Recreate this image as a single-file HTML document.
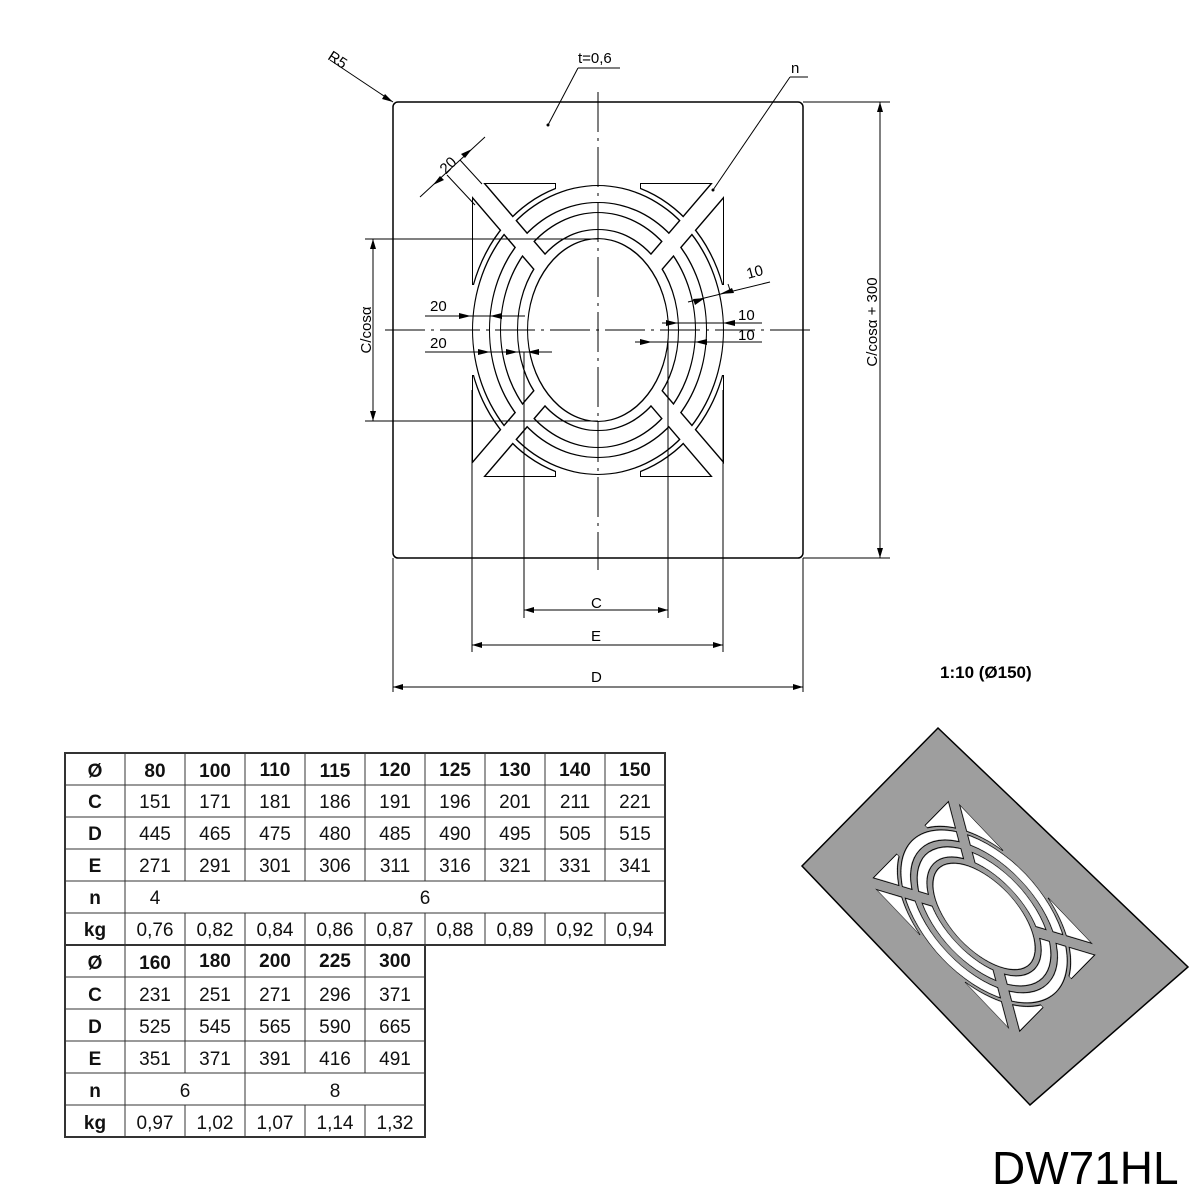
<!DOCTYPE html>
<html><head><meta charset="utf-8"><style>
html,body{margin:0;padding:0;background:#fff;}
svg{display:block;}
text{font-family:"Liberation Sans",sans-serif;}
</style></head><body>
<svg width="1200" height="1200" viewBox="0 0 1200 1200" xmlns="http://www.w3.org/2000/svg">
<defs>
<mask id="bm" maskUnits="userSpaceOnUse" x="0" y="0" width="1200" height="1200">
<rect x="0" y="0" width="1200" height="1200" fill="#fff"/>
<line x1="346" y1="36" x2="850" y2="624" stroke="#000" stroke-width="17"/>
<line x1="850" y1="36" x2="346" y2="624" stroke="#000" stroke-width="17"/>
</mask>
<filter id="er" filterUnits="userSpaceOnUse" x="0" y="0" width="1200" height="1200"><feMorphology operator="erode" radius="1.1"/></filter>
<g id="cut">
<g mask="url(#bm)">
<path fill-rule="evenodd" d="M472,330 a126,145 0 1,0 252,0 a126,145 0 1,0 -252,0 Z M490,330 a108,127 0 1,0 216,0 a108,127 0 1,0 -216,0 Z"/>
<path fill-rule="evenodd" d="M500,330 a98,118 0 1,0 196,0 a98,118 0 1,0 -196,0 Z M518,330 a80,100 0 1,0 160,0 a80,100 0 1,0 -160,0 Z"/>
<path d="M472,183 L556,183 L556,189 A130 149 0 0 0 474,285 L472,285 Z"/>
<path d="M472,183 L556,183 L556,189 A130 149 0 0 0 474,285 L472,285 Z" transform="matrix(-1 0 0 1 1196 0)"/>
<path d="M472,183 L556,183 L556,189 A130 149 0 0 0 474,285 L472,285 Z" transform="matrix(1 0 0 -1 0 660)"/>
<path d="M472,183 L556,183 L556,189 A130 149 0 0 0 474,285 L472,285 Z" transform="matrix(-1 0 0 -1 1196 660)"/>
</g>
<ellipse cx="598" cy="330" rx="71" ry="92"/>
</g>
</defs>

<rect x="393" y="102" width="410" height="456" rx="5" fill="#fff" stroke="#000" stroke-width="1.5"/>
<use href="#cut" fill="#000"/>
<use href="#cut" fill="#fff" filter="url(#er)"/>

<g stroke="#000" stroke-width="1" fill="none">
<line x1="598" y1="92" x2="598" y2="570" stroke-dasharray="40,6,3,6"/>
<line x1="385" y1="330" x2="812" y2="330" stroke-dasharray="40,6,3,6"/>
<line x1="365" y1="239" x2="598" y2="239"/>
<line x1="365" y1="421" x2="598" y2="421"/>
<line x1="803" y1="102" x2="890" y2="102"/>
<line x1="803" y1="558" x2="890" y2="558"/>
<line x1="524" y1="352" x2="524" y2="618"/>
<line x1="668" y1="342" x2="668" y2="618"/>
<line x1="472" y1="390" x2="472" y2="652"/>
<line x1="723" y1="390" x2="723" y2="652"/>
<line x1="393" y1="558" x2="393" y2="692"/>
<line x1="803" y1="558" x2="803" y2="692"/>
<line x1="373" y1="239" x2="373" y2="421"/>
<line x1="880" y1="102" x2="880" y2="558"/>
<line x1="524" y1="610" x2="668" y2="610"/>
<line x1="472" y1="645" x2="723" y2="645"/>
<line x1="393" y1="687" x2="803" y2="687"/>
<line x1="330" y1="60" x2="393" y2="102"/>
<line x1="578" y1="68" x2="620" y2="68"/>
<line x1="578" y1="68" x2="548" y2="125"/>
<line x1="790" y1="77" x2="808" y2="77"/>
<line x1="790" y1="77" x2="713" y2="190"/>
<line x1="420" y1="197" x2="485" y2="137"/>
<line x1="447" y1="175" x2="475" y2="205"/>
<line x1="460" y1="160" x2="482" y2="184"/>
<line x1="425" y1="316" x2="525" y2="316"/>
<line x1="425" y1="352" x2="552" y2="352"/>
<line x1="662" y1="323" x2="762" y2="323"/>
<line x1="635" y1="342" x2="762" y2="342"/>
<line x1="688" y1="302" x2="770" y2="282"/>
<line x1="728" y1="284" x2="731" y2="293"/>
</g>
<g fill="#000">
<path d="M373,239 l-3,10 h6 Z M373,421 l-3,-10 h6 Z"/>
<path d="M880,102 l-3,10 h6 Z M880,558 l-3,-10 h6 Z"/>
<path d="M524,610 l10,-3 v6 Z M668,610 l-10,-3 v6 Z"/>
<path d="M472,645 l10,-3 v6 Z M723,645 l-10,-3 v6 Z"/>
<path d="M393,687 l10,-3 v6 Z M803,687 l-10,-3 v6 Z"/>
<path d="M393,102 l-11,-3 l3,-5 Z"/>
<path d="M471,316 l-12,-3 v6 Z M490,316 l12,-3 v6 Z"/>
<path d="M490,352 l-12,-3 v6 Z M518,352 l-12,-3 v6 Z M527,352 l12,-3 v6 Z"/>
<path d="M678,323 l-12,-3 v6 Z M723,323 l12,-3 v6 Z"/>
<path d="M652,342 l-12,-3 v6 Z M695,342 l12,-3 v6 Z"/>
<path d="M705,298 l-12,1 l2,6 Z M720,294 l12,-6 l2,5 Z"/>
<path d="M433,185 l7,-9 l4,4 Z M472,149 l-7,9 l-4,-4 Z"/>
<circle cx="548" cy="125" r="1.5"/><circle cx="713" cy="190" r="1.5"/>
</g>
<g font-size="15" fill="#000">
<text x="578" y="63">t=0,6</text>
<text x="791" y="73">n</text>
<text x="328" y="65" transform="rotate(33 338 60)">R5</text>
<text x="438" y="168" transform="rotate(-45 450 162)">20</text>
<text x="430" y="311">20</text>
<text x="430" y="348">20</text>
<text x="738" y="320">10</text>
<text x="738" y="340">10</text>
<text x="746" y="276" transform="rotate(-15 758 270)">10</text>
<text x="591" y="608">C</text>
<text x="591" y="641">E</text>
<text x="591" y="682">D</text>
<text transform="translate(371 330) rotate(-90)" text-anchor="middle">C/cosα</text>
<text transform="translate(877 322) rotate(-90)" text-anchor="middle">C/cosα + 300</text>
</g>
<text x="940" y="678" font-size="17" font-weight="bold">1:10 (Ø150)</text>
<text x="992" y="1184" font-size="46">DW71HL</text>

<polygon points="938,728 1188,967 1030,1105 802,866" fill="#9e9e9e" stroke="#000" stroke-width="1.5"/>
<g transform="matrix(0.332 -0.337 0.5 0.524 620.5 945)">
<use href="#cut" fill="#000"/>
<use href="#cut" fill="#fff" filter="url(#er)"/>
</g>

<g stroke="#333" stroke-width="1" fill="none">
<rect x="65" y="753" width="600" height="192" stroke-width="2"/>
<rect x="65" y="945" width="360" height="192" stroke-width="2"/>
<path d="M65,785H665 M65,817H665 M65,849H665 M65,881H665 M65,913H665
M125,753V945 M185,753V881 M185,913V945 M245,753V881 M245,913V945 M305,753V881 M305,913V945 M365,753V881 M365,913V945 M425,753V881 M425,913V945 M485,753V881 M485,913V945 M545,753V881 M545,913V945 M605,753V881 M605,913V945
M65,977H425 M65,1009H425 M65,1041H425 M65,1073H425 M65,1105H425
M125,945V1137 M185,945V1073 M185,1105V1137 M245,945V1137 M305,945V1073 M305,1105V1137 M365,945V1073 M365,1105V1137"/>
</g>
<g font-size="19" text-anchor="middle" fill="#111">
<g font-weight="bold"><text x="95" y="777">Ø</text><text x="95" y="808">C</text><text x="95" y="840">D</text><text x="95" y="872">E</text><text x="95" y="904">n</text><text x="95" y="936">kg</text>
<text x="155" y="777">80</text><text x="215" y="777">100</text><text x="275" y="776">110</text><text x="335" y="777">115</text><text x="395" y="776">120</text><text x="455" y="776">125</text><text x="515" y="776">130</text><text x="575" y="776">140</text><text x="635" y="776">150</text>
<text x="95" y="969">Ø</text><text x="95" y="1001">C</text><text x="95" y="1033">D</text><text x="95" y="1065">E</text><text x="95" y="1097">n</text><text x="95" y="1129">kg</text>
<text x="155" y="969">160</text><text x="215" y="967">180</text><text x="275" y="967">200</text><text x="335" y="967">225</text><text x="395" y="967">300</text></g>
<text x="155" y="808">151</text><text x="215" y="808">171</text><text x="275" y="808">181</text><text x="335" y="808">186</text><text x="395" y="808">191</text><text x="455" y="808">196</text><text x="515" y="808">201</text><text x="575" y="808">211</text><text x="635" y="808">221</text>
<text x="155" y="840">445</text><text x="215" y="840">465</text><text x="275" y="840">475</text><text x="335" y="840">480</text><text x="395" y="840">485</text><text x="455" y="840">490</text><text x="515" y="840">495</text><text x="575" y="840">505</text><text x="635" y="840">515</text>
<text x="155" y="872">271</text><text x="215" y="872">291</text><text x="275" y="872">301</text><text x="335" y="872">306</text><text x="395" y="872">311</text><text x="455" y="872">316</text><text x="515" y="872">321</text><text x="575" y="872">331</text><text x="635" y="872">341</text>
<text x="155" y="904">4</text><text x="425" y="904">6</text>
<text x="155" y="936">0,76</text><text x="215" y="936">0,82</text><text x="275" y="936">0,84</text><text x="335" y="936">0,86</text><text x="395" y="936">0,87</text><text x="455" y="936">0,88</text><text x="515" y="936">0,89</text><text x="575" y="936">0,92</text><text x="635" y="936">0,94</text>
<text x="155" y="1001">231</text><text x="215" y="1001">251</text><text x="275" y="1001">271</text><text x="335" y="1001">296</text><text x="395" y="1001">371</text>
<text x="155" y="1033">525</text><text x="215" y="1033">545</text><text x="275" y="1033">565</text><text x="335" y="1033">590</text><text x="395" y="1033">665</text>
<text x="155" y="1065">351</text><text x="215" y="1065">371</text><text x="275" y="1065">391</text><text x="335" y="1065">416</text><text x="395" y="1065">491</text>
<text x="185" y="1097">6</text><text x="335" y="1097">8</text>
<text x="155" y="1129">0,97</text><text x="215" y="1129">1,02</text><text x="275" y="1129">1,07</text><text x="335" y="1129">1,14</text><text x="395" y="1129">1,32</text>
</g>
</svg>
</body></html>
